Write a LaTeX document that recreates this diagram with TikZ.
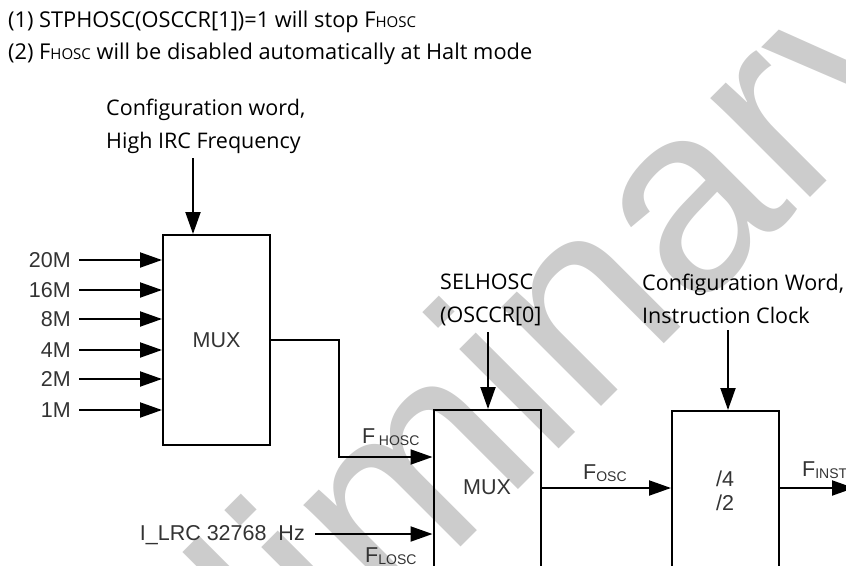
\documentclass[tikz,border=0pt]{standalone}
\usepackage{fontspec}
\setmainfont{Open Sans}
\newfontfamily\arialf{Liberation Sans}
\usetikzlibrary{arrows.meta}
\newcommand\fsub[2]{#1\raisebox{-2pt}{\fontsize{14}{14}\selectfont #2}}
\begin{document}
\begin{tikzpicture}[x=1pt,y=-1pt,
  box/.style={draw, line width=2pt, minimum width=107pt, minimum height=210pt, inner sep=0pt},
  arr/.style={draw, line width=2pt, -{Triangle[length=22pt,width=15pt]}},
  note/.style={font=\fontsize{21.8}{21.8}\selectfont, inner sep=0pt, anchor=base west},
  lab/.style={font=\fontsize{21.5}{21.5}\selectfont, inner sep=0pt, anchor=base west},
  ar/.style={font=\arialf\fontsize{21.5}{21.5}\selectfont, inner sep=0pt, text=black!80},
  wm/.style={font=\arialf\fontsize{266}{266}\selectfont, text=black!20, inner sep=0pt, anchor=base west, rotate=45}]
\useasboundingbox (0,0) rectangle (846,565);
\clip (0,0) rectangle (846,565);
\node[wm] (wmark) at (14,994) {Preliminary};

\node[note] (n1) at (8,27) {(1) STPHOSC(OSCCR[1])=1 will stop F{\fontsize{15}{15}\selectfont HOSC}};
\node[note] (n2) at (8,59) {(2) F{\fontsize{15}{15}\selectfont HOSC} will be disabled automatically at Halt mode};

\node[lab] (c1a) at (106,115) {Configuration word,};
\node[lab] (c1b) at (106,148) {High IRC Frequency};

\node[box, ar] (mux1) at (216.5,340) {MUX};
\foreach \t/\y/\n in {20M/260/a, 16M/290/b, 8M/319/c, 4M/350/d, 2M/379/e, 1M/410/f} {
  \node[ar, anchor=east] (in\n) at (71,\y) {\t};
  \draw[arr] ([xshift=8pt]in\n.east) -- (in\n.east -| mux1.west);
}
\coordinate (t1) at (193,158);
\draw[arr] (t1) -- (t1 |- mux1.north);

\node[box] (mux2) at (487,515) {};
\node[ar] (mux2t) at (487,487) {MUX};
\coordinate (hx) at (339,340);
\coordinate (hin) at ([yshift=58pt]mux2.west);
\draw[arr] (mux1.east) -- (hx) -- (hx |- hin) -- (hin);
\node[ar, anchor=base west] (fh) at (362,443) {F\,\raisebox{-2pt}{\fontsize{14}{14}\selectfont HOSC}};

\node[lab] (s1) at (440,289) {SELHOSC};
\node[lab] (s2) at (440,322) {(OSCCR[0]};
\coordinate (t2) at (488,332);
\draw[arr] (t2) -- (t2 |- mux2.north);

\node[ar, anchor=base east] (lrc) at (305,540) {I\_LRC 32768\ \ Hz};
\coordinate (lin) at ([yshift=-19pt]mux2.west);
\coordinate (ls) at ([xshift=10pt]lrc.east);
\draw[arr] (ls |- lin) -- (lin);
\node[ar, anchor=base west] (fl) at (365,562) {\fsub{F}{LOSC}};

\node[box] (div) at (725.5,516) {};
\node[ar] (d4) at (725,479) {/4};
\node[ar] (d2) at (725,503) {/2};
\coordinate (fo) at ([yshift=27pt]mux2.east);
\draw[arr] (fo) -- (fo -| div.west);
\node[ar, anchor=base west] (fosc) at (583,479) {\fsub{F}{OSC}};

\node[lab] (c2a) at (642,290) {Configuration Word,};
\node[lab] (c2b) at (642,323) {Instruction Clock};
\coordinate (t3) at (728,330);
\draw[arr] (t3) -- (t3 |- div.north);

\coordinate (fi) at (854,488);
\draw[arr] (div.east |- fo) -- (fi);
\node[ar, anchor=base west] (finst) at (802,476) {\fsub{F}{INST}};
\end{tikzpicture}
\end{document}
